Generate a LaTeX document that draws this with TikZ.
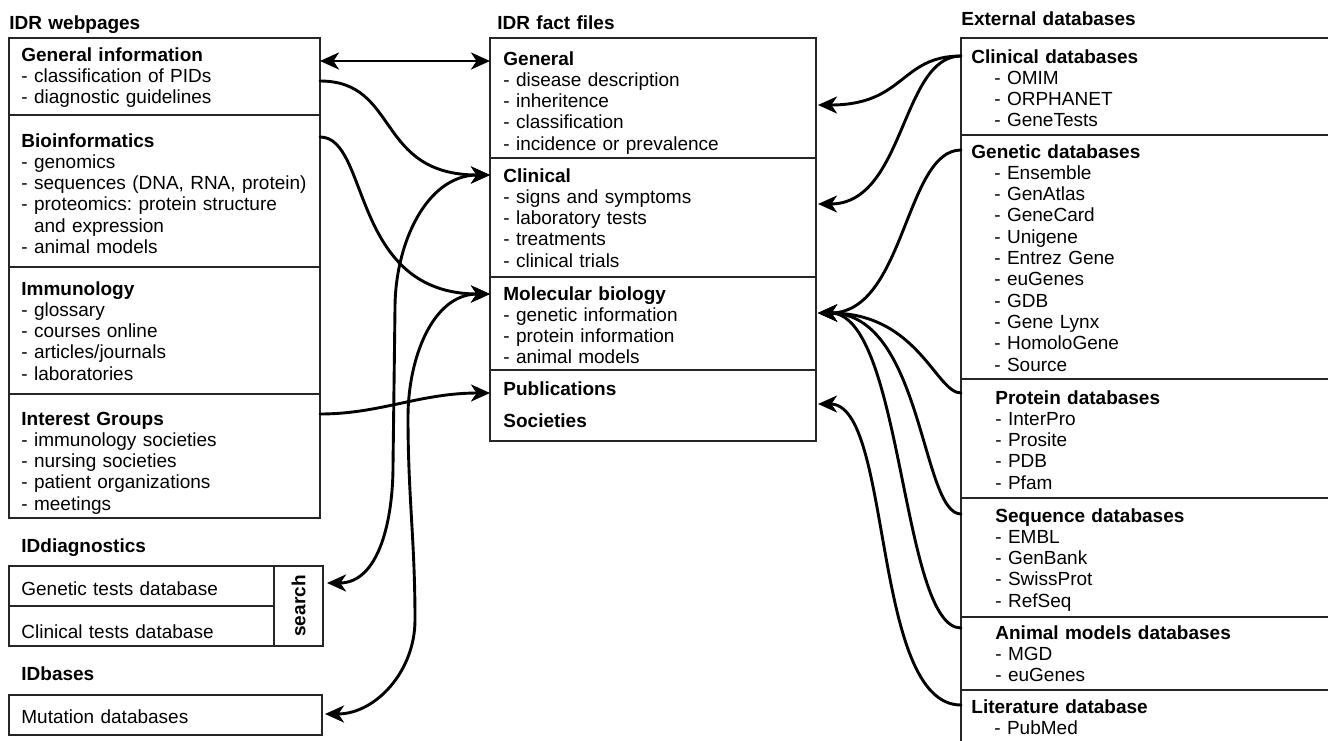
\documentclass[tikz,border=0pt]{standalone}
\usepackage{fontspec}
\setmainfont{Liberation Sans}
\usetikzlibrary{positioning}
\usetikzlibrary{arrows.meta}
\usetikzlibrary{calc}
\tikzset{>={Stealth[length=9.5pt,width=8.5pt,inset=2.8pt]}}
\colorlet{myline}{black!85}
\def\pxu{0.5pt}
\frenchspacing
\newcommand{\indnt}{\hspace*{11.5pt}}
\tikzstyle{sect}=[draw=myline,line width=1pt,inner sep=0pt,outer sep=0pt,minimum width=#1]
\tikzstyle{txt}=[inner sep=0pt,anchor=base west,align=left,text width=150pt,font=\fontsize{9.5}{10.65}\selectfont]
\tikzstyle{head}=[txt,font=\fontsize{9.5}{10.65}\selectfont\bfseries]
\tikzstyle{conn}=[line width=1.45pt,line cap=round]

\begin{document}
\begin{tikzpicture}[x=\pxu,y=-\pxu]
  \useasboundingbox (0,0) rectangle (1328,740);
  \clip (0,0) rectangle (1328,740);

  % IDR webpages
  \node[sect=311*\pxu,minimum height=77*\pxu,anchor=north west] (gi) at (9,38) {};
  \node[sect=311*\pxu,minimum height=152*\pxu,below=0pt of gi] (bio) {};
  \node[sect=311*\pxu,minimum height=127*\pxu,below=0pt of bio] (imm) {};
  \node[sect=311*\pxu,minimum height=124*\pxu,below=0pt of imm] (ig) {};
  \node[head] (webtitle) at ($(gi.north west)+(0,-9)$) {IDR webpages};
  \node[txt] (gi-t) at ($(gi.north west)+(12,23)$) {\textbf{General information}\\- classification of PIDs\\- diagnostic guidelines};
  \node[txt] (bio-t) at ($(bio.north west)+(12,32)$) {\textbf{Bioinformatics}\\- genomics\\- sequences (DNA, RNA, protein)\\- proteomics: protein structure\\\phantom{- }and expression\\- animal models};
  \node[txt] (imm-t) at ($(imm.north west)+(12,28)$) {\textbf{Immunology}\\- glossary\\- courses online\\- articles/journals\\- laboratories};
  \node[txt] (ig-t) at ($(ig.north west)+(12,31)$) {\textbf{Interest Groups}\\- immunology societies\\- nursing societies\\- patient organizations\\- meetings};

  % IDdiagnostics
  \node[sect=265*\pxu,minimum height=40*\pxu,anchor=north west] (gt) at (9,566) {};
  \node[sect=265*\pxu,minimum height=40*\pxu,below=0pt of gt] (ct) {};
  \node[sect=49*\pxu,minimum height=80*\pxu,anchor=north west] (search) at (gt.north east) {};
  \node[head] (diagtitle) at ($(gt.north west)+(12,-14)$) {IDdiagnostics};
  \node[txt] (gt-t) at ($(gt.north west)+(12,29)$) {Genetic tests database};
  \node[txt] (ct-t) at ($(ct.north west)+(12,32)$) {Clinical tests database};
  \node[head,anchor=center,rotate=90,text width=,align=center] (search-t) at (search.center) {search};

  % IDbases
  \node[sect=313*\pxu,minimum height=40*\pxu,anchor=north west] (mut) at (9,695) {};
  \node[head] (basestitle) at ($(mut.north west)+(12,-15)$) {IDbases};
  \node[txt] (mut-t) at ($(mut.north west)+(12,28)$) {Mutation databases};

  % IDR fact files
  \node[sect=326*\pxu,minimum height=120*\pxu,anchor=north west] (gen) at (490,38) {};
  \node[sect=326*\pxu,minimum height=119*\pxu,below=0pt of gen] (clin) {};
  \node[sect=326*\pxu,minimum height=93*\pxu,below=0pt of clin] (mol) {};
  \node[sect=326*\pxu,minimum height=71*\pxu,below=0pt of mol] (pub) {};
  \node[head] (facttitle) at ($(gen.north west)+(7,-9)$) {IDR fact files};
  \node[txt] (gen-t) at ($(gen.north west)+(13,27)$) {\textbf{General}\\- disease description\\- inheritence\\- classification\\- incidence or prevalence};
  \node[txt] (clin-t) at ($(clin.north west)+(13,24)$) {\textbf{Clinical}\\- signs and symptoms\\- laboratory tests\\- treatments\\- clinical trials};
  \node[txt] (mol-t) at ($(mol.north west)+(13,23)$) {\textbf{Molecular biology}\\- genetic information\\- protein information\\- animal models};
  \node[txt] (pub-t) at ($(pub.north west)+(13,25)$) {\textbf{Publications}\\[5.5pt]\textbf{Societies}};

  % External databases
  \node[sect=379*\pxu,minimum height=97*\pxu,anchor=north west] (cdb) at (961,38) {};
  \node[sect=379*\pxu,minimum height=244*\pxu,below=0pt of cdb] (gdb) {};
  \node[sect=379*\pxu,minimum height=119*\pxu,below=0pt of gdb] (pdb) {};
  \node[sect=379*\pxu,minimum height=119*\pxu,below=0pt of pdb] (sdb) {};
  \node[sect=379*\pxu,minimum height=73*\pxu,below=0pt of sdb] (adb) {};
  \node[sect=379*\pxu,minimum height=70*\pxu,below=0pt of adb] (ldb) {};
  \node[head] (exttitle) at ($(cdb.north west)+(0,-13)$) {External databases};
  \node[txt] (cdb-t) at ($(cdb.north west)+(10,25)$) {\textbf{Clinical databases}\\\indnt- OMIM\\\indnt- ORPHANET\\\indnt- GeneTests};
  \node[txt] (gdb-t) at ($(gdb.north west)+(10,23)$) {\textbf{Genetic databases}\\\indnt- Ensemble\\\indnt- GenAtlas\\\indnt- GeneCard\\\indnt- Unigene\\\indnt- Entrez Gene\\\indnt- euGenes\\\indnt- GDB\\\indnt- Gene Lynx\\\indnt- HomoloGene\\\indnt- Source};
  \node[txt] (pdb-t) at ($(pdb.north west)+(34,25)$) {\textbf{Protein databases}\\- InterPro\\- Prosite\\- PDB\\- Pfam};
  \node[txt] (sdb-t) at ($(sdb.north west)+(34,24)$) {\textbf{Sequence databases}\\- EMBL\\- GenBank\\- SwissProt\\- RefSeq};
  \node[txt] (adb-t) at ($(adb.north west)+(34,22)$) {\textbf{Animal models databases}\\- MGD\\- euGenes};
  \node[txt] (ldb-t) at ($(ldb.north west)+(10,23)$) {\textbf{Literature database}\\\indnt- PubMed};

  % webpages -> fact files
  \draw[conn,<->] ($(gi.north east)+(0,23)$) -- ($(gen.north west)+(0,23)$);
  \draw[conn,->] ($(gi.north east)+(0,43)$) .. controls +(80,0) and +(-115,0) .. ($(clin.north west)+(0,17)$);
  \draw[conn,->] ($(bio.north east)+(0,22)$) .. controls +(50,0) and +(-140,0) .. ($(mol.north west)+(0,17)$);
  \draw[conn,->] ($(ig.north east)+(0,20)$) .. controls +(60,0) and +(-70,0) .. ($(pub.north west)+(0,23)$);

  % fact files -> IDdiagnostics, IDbases
  \draw[conn,<->] ($(clin.north west)+(0,17)$) to[out=180,in=90] ($(clin.north west)+(-95,150)$)
    -- ($(search.north east)+(70,-100)$) to[out=-90,in=0] ($(search.north east)+(4,17)$);
  \draw[conn,<->] ($(mol.north west)+(0,17)$) to[out=180,in=90] ($(mol.north west)+(-82,140)$)
    to[out=-90,in=90] ($(mut.north east)+(93,-75)$) to[out=-90,in=0] ($(mut.north east)+(3,19)$);

  % external databases -> fact files
  \draw[conn,->] ($(cdb.north west)+(0,18)$) .. controls +(-61,0) and +(87,0) .. ($(gen.north east)+(2,67)$);
  \draw[conn,->] ($(cdb.north west)+(0,18)$) .. controls +(-60,0) and +(87,0) .. ($(clin.north east)+(2,46)$);
  \draw[conn,->] ($(gdb.north west)+(0,15)$) .. controls +(-56,0) and +(87,0) .. ($(mol.north east)+(2,36)$);
  \draw[conn,->] ($(pdb.north west)+(0,14)$) .. controls +(-25,0) and +(100,0) .. ($(mol.north east)+(2,36)$);
  \draw[conn,->] ($(sdb.north west)+(0,16)$) .. controls +(-40,0) and +(105,0) .. ($(mol.north east)+(2,36)$);
  \draw[conn,->] ($(adb.north west)+(0,11)$) .. controls +(-60,0) and +(85,0) .. ($(mol.north east)+(2,36)$);
  \draw[conn,->] ($(ldb.north west)+(0,15)$) .. controls +(-90,0) and +(75,0) .. ($(pub.north east)+(2,34)$);
\end{tikzpicture}
\end{document}
